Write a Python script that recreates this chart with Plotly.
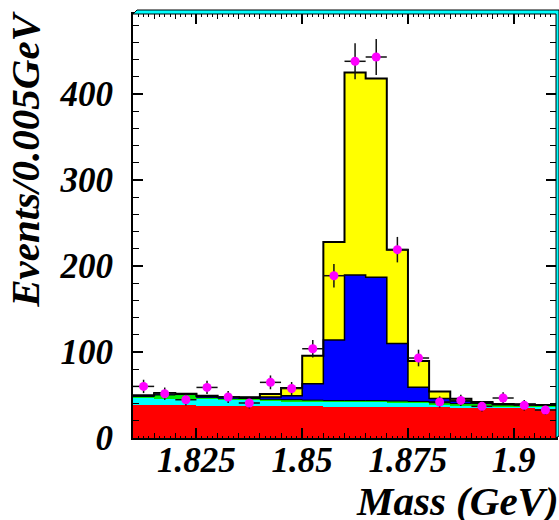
import plotly.graph_objects as go
import numpy as np

# ---- data ----
bin_lo = 1.81
bin_w = 0.005
n_bins = 20
red    = [38.0, 38.0, 37.8, 37.6, 37.4, 37.2, 37.0, 37.0, 36.8, 36.6, 36.4, 36.2, 36.0, 35.8, 35.6, 35.4, 35.2, 35.0, 34.5, 33.5]
cyan   = [9.2, 7.3, 7.2, 7.9, 7.4, 7.1, 6.6, 6.0, 5.7, 5.4, 5.6, 5.8, 5.5, 5.2, 3.9, 2.6, 2.8, 2.0, 2.5, 3.5]
green  = [1.3, 4.7, 5.5, 2.0, 1.7, 1.7, 1.4, 1.5, 1.5, 1.5, 1.5, 1.5, 1.5, 1.5, 1.5, 2.0, 2.0, 1.5, 1.5, 1.0]
blue   = [0.5, 1.5, 0.5, 1.0, 1.0, 1.0, 2.6, 4.5, 19.0, 70.5, 146.0, 143.5, 67.0, 16.5, 5.0, 3.0, 1.0, 0.5, 0.5, 0.3]
yellow = [0.6, 0.8, 0.5, 0.7, 0.2, 0.3, 3.5, 9.0, 32.7, 114.0, 235.5, 231.0, 109.0, 30.5, 8.0, 2.7, 0.8, 0.5, 0.2, 0.2]
data_y = [60, 51.5, 44.5, 58.8, 47.7, 40.7, 64.7, 57.5, 103.8, 188.7, 438, 443, 219, 93, 41.9, 43.7, 36.8, 46.5, 38, 32.5]

x_ticks = [1.825, 1.85, 1.875, 1.9]
x_tick_text = ["1.825", "1.85", "1.875", "1.9"]
y_ticks = [0, 100, 200, 300, 400]
y_tick_text = ["0", "100", "200", "300", "400"]

edges = bin_lo + bin_w * np.arange(n_bins + 1)
centers = edges[:-1] + bin_w / 2

FONT = "'Liberation Serif', 'Times New Roman', Times, serif"
tfont = dict(family=FONT, size=35, color="black", weight="bold", style="italic")
titlefont = dict(family=FONT, size=41, color="black", weight="bold", style="italic")

fig = go.Figure()
comps = [(red, "#ff0000"), (cyan, "#00ffff"), (green, "#00ee00"), (blue, "#0000ff"), (yellow, "#ffff00")]
for vals, col in comps:
    fig.add_trace(go.Bar(x=centers, y=vals, width=bin_w, marker=dict(color=col, line=dict(width=0)),
                         showlegend=False, hoverinfo="skip"))

cum = np.cumsum(np.array([c[0] for c in comps]), axis=0)
def step(yv, w):
    fig.add_trace(go.Scatter(x=edges, y=list(yv) + [yv[-1]], mode="lines",
                             line=dict(color="black", width=w, shape="hv"),
                             showlegend=False, hoverinfo="skip"))
step(cum[2], 1)
step(cum[3], 1.5)
step(cum[4], 2)

fig.add_trace(go.Scatter(
    x=centers, y=data_y, mode="markers",
    marker=dict(color="#ff00ff", size=9, line=dict(width=0)),
    error_x=dict(type="constant", value=bin_w / 2, color="#111", thickness=1.5, width=0),
    error_y=dict(type="data", array=np.sqrt(data_y), color="#111", thickness=1.5, width=0),
    showlegend=False))

# extra axis for fine ticks
fig.add_trace(go.Scatter(x=[edges[0]], y=[0], xaxis="x2", mode="markers", marker=dict(opacity=0),
                         showlegend=False, hoverinfo="skip"))

xr = [edges[0], edges[-1]]
fig.update_layout(
    width=559, height=520,
    margin=dict(l=133, r=3, t=14, b=82, autoexpand=False),
    paper_bgcolor="white", plot_bgcolor="white",
    barmode="stack", bargap=0,
    xaxis=dict(range=xr, tickvals=x_ticks, ticktext=x_tick_text, ticks="inside", ticklen=10,
               tickwidth=1.5, tickcolor="black", showline=True, linewidth=2, linecolor="black",
               mirror="ticks", showgrid=False, zeroline=False, tickfont=tfont, automargin=False,
               ticklabelstandoff=-10,
               minor=dict(dtick=0.005, tick0=1.81, ticks="inside", ticklen=5, tickcolor="black", tickwidth=1)),
    xaxis2=dict(range=xr, overlaying="x", anchor="y", dtick=0.00125, tick0=1.81, ticks="inside",
                ticklen=2.5, tickcolor="black", tickwidth=1, showticklabels=False, showgrid=False,
                zeroline=False, mirror="ticks", showline=False, side="bottom", automargin=False),
    yaxis=dict(range=[0, 493], tickvals=y_ticks, ticktext=y_tick_text, ticks="inside", ticklen=10,
               tickwidth=1.5, tickcolor="black", showline=True, linewidth=2, linecolor="black",
               mirror="ticks", showgrid=False, zeroline=False, tickfont=tfont, automargin=False,
               ticklabelstandoff=11,
               minor=dict(dtick=20, ticks="inside", ticklen=6, tickcolor="black", tickwidth=1)),
)

# ROOT-like 3D frame strip (top and right)
fig.add_shape(type="path", xref="paper", yref="paper",
              path="M 0,1 L 0.0095,1.0094 L 1.0071,1.0094 L 1.0071,0.0047 L 1,0 L 1,1 Z",
              fillcolor="#00ffff", line=dict(color="black", width=1), layer="above")

fig.add_annotation(text="Mass (GeV)", xref="paper", yref="paper", x=1.012, y=-0.148,
                   xanchor="right", yanchor="middle", showarrow=False, font=titlefont)
fig.add_annotation(text="Events/0.005GeV", xref="paper", yref="paper", x=-0.315, y=1.013,
                   xanchor="left", yanchor="top", textangle=-90, showarrow=False, font=titlefont)

fig.write_html("out.html", config={"displayModeBar": False},
               post_script="document.body.style.margin='0';")
